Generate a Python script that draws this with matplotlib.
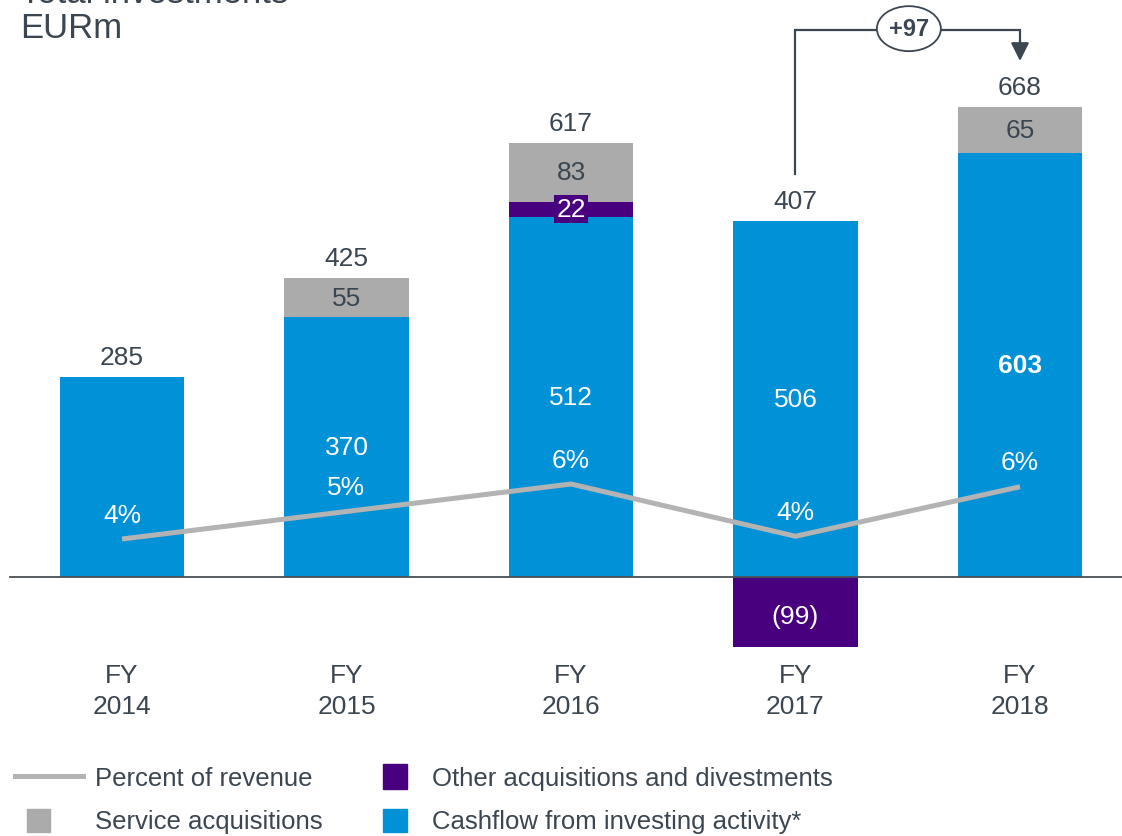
import matplotlib
matplotlib.use("Agg")
import matplotlib.pyplot as plt
from matplotlib.patches import Ellipse, Rectangle
from matplotlib.lines import Line2D

plt.rcParams['font.family'] = ['Liberation Sans', 'DejaVu Sans']

# ---- data ----
years = ["FY\n2014", "FY\n2015", "FY\n2016", "FY\n2017", "FY\n2018"]
cashflow = [285, 370, 512, 506, 603]
other_acq = [0, 0, 22, -99, 0]
service_acq = [0, 55, 83, 0, 65]
totals = [285, 425, 617, 407, 668]
pct_revenue = [4.0, 5.0, 6.0, 4.1, 5.9]
pct_labels = ["4%", "5%", "6%", "4%", "6%"]
delta_label = "+97"

BLUE = "#0091d6"
PURPLE = "#48007f"
GREY = "#ababab"
LINEGREY = "#b3b3b3"
TXT = "#3b4651"

W, H = 1122, 837
fig = plt.figure(figsize=(W / 100, H / 100), dpi=100)
ax = fig.add_axes([0, 0, 1, 1])
ax.set_xlim(-122 / 224.5, (W - 122) / 224.5)
ax.set_ylim(-(H - 578) / 0.703, 578 / 0.703)
ax.axis("off")

x = list(range(len(years)))
bw = 0.553

# bars
ax.bar(x, cashflow, width=bw, color=BLUE, zorder=2)
pos_other = [max(v, 0) for v in other_acq]
neg_other = [min(v, 0) for v in other_acq]
ax.bar(x, pos_other, width=bw, bottom=cashflow, color=PURPLE, zorder=2)
ax.bar(x, neg_other, width=bw, color=PURPLE, zorder=2)
svc_bottom = [c + p for c, p in zip(cashflow, pos_other)]
ax.bar(x, service_acq, width=bw, bottom=svc_bottom, color=GREY, zorder=2)

# zero line
ax.axhline(0, xmin=10 / W, xmax=1, color="#4a4f55", lw=1.3, zorder=3)

FS = 19
# labels
for i in x:
    top = max(svc_bottom[i] + service_acq[i], cashflow[i])
    ax.annotate(str(totals[i]), (i, top), xytext=(0, 14.5), textcoords="offset points",
                ha="center", va="center", fontsize=FS, color=TXT, zorder=5)
    if i != 0:
        ax.text(i, cashflow[i] / 2, str(cashflow[i]), ha="center", va="center",
                fontsize=FS, color="white", zorder=5,
                fontweight="bold" if i == len(x) - 1 else "normal")
    if service_acq[i]:
        ax.text(i, svc_bottom[i] + service_acq[i] / 2, str(service_acq[i]), ha="center",
                va="center", fontsize=FS, color=TXT, zorder=5)
    if other_acq[i] > 0:
        ax.text(i, cashflow[i] + other_acq[i] / 2, str(other_acq[i]), ha="center",
                va="center", fontsize=FS, color="white", zorder=5,
                bbox=dict(boxstyle="square,pad=0.08", fc=PURPLE, ec="none"))
    elif other_acq[i] < 0:
        ax.text(i, other_acq[i] / 2 - 6, f"({abs(other_acq[i])})", ha="center",
                va="center", fontsize=FS, color="white", zorder=5)
    ax.text(i, -161, years[i], ha="center", va="center", fontsize=FS, color=TXT,
            linespacing=1.35)

# percent line on secondary axis
ax2 = fig.add_axes([0, 0, 1, 1], sharex=ax)
ax2.patch.set_alpha(0)
ax2.axis("off")
ax2.set_ylim(4 - 297 / 27.5, 4 + 540 / 27.5)
ax2.plot(x, pct_revenue, color=LINEGREY, lw=3.6, zorder=4, solid_capstyle="butt")
for i in x:
    ax2.annotate(pct_labels[i], (i, pct_revenue[i]), xytext=(0, 17.5),
                 textcoords="offset points", ha="center", va="center",
                 fontsize=FS, color="white", zorder=5)

# delta bracket
y_top = 778
y_start = cashflow[3] + 67
y_tip = totals[4] + 66
ax.plot([3, 3, 4, 4], [y_start, y_top, y_top, y_tip + 12], color="#3b4651", lw=1.6,
        zorder=6, solid_joinstyle="miter")
ax.annotate("", xy=(4, y_tip), xytext=(4, y_tip + 30),
            arrowprops=dict(arrowstyle="-|>,head_length=1.1,head_width=0.55",
                            color="#3b4651", lw=1.6, shrinkA=0, shrinkB=0),
            zorder=7)
ax.add_patch(Ellipse((3.505, y_top + 2), 0.285, 64, fc="white", ec="#3b4651", lw=1.3, zorder=7))
ax.text(3.505, y_top + 2, delta_label, ha="center", va="center", fontsize=17,
        fontweight="bold", color=TXT, zorder=8)

# title (cut off at the top edge as in the reference)
fig.text(20 / W, 1 - 3 / H, "Total investments", ha="left", va="baseline",
         fontsize=25, color=TXT)
fig.text(20 / W, 1 - 29 / H, "EURm", ha="left", va="center", fontsize=25, color=TXT)

# legend
def fx(px):
    return px / W

def fy(py):
    return 1 - py / H

fig.add_artist(Line2D([fx(15), fx(83)], [fy(777), fy(777)], color=LINEGREY, lw=3.6))
fig.add_artist(Rectangle((fx(27), fy(833)), 23 / W, 23 / H, color=GREY, transform=fig.transFigure))
fig.add_artist(Rectangle((fx(383), fy(790)), 24 / W, 25 / H, color=PURPLE, transform=fig.transFigure))
fig.add_artist(Rectangle((fx(383), fy(833)), 24 / W, 23 / H, color=BLUE, transform=fig.transFigure))
LFS = 18.5
fig.text(fx(95), fy(779), "Percent of revenue", ha="left", va="center", fontsize=LFS, color=TXT)
fig.text(fx(95), fy(822), "Service acquisitions", ha="left", va="center", fontsize=LFS, color=TXT)
fig.text(fx(432), fy(779), "Other acquisitions and divestments", ha="left", va="center", fontsize=LFS, color=TXT)
fig.text(fx(432), fy(822), "Cashflow from investing activity*", ha="left", va="center", fontsize=LFS, color=TXT)

fig.savefig("out.png", dpi=100)
